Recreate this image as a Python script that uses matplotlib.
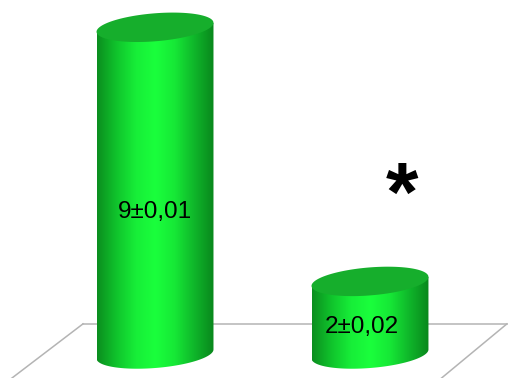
import numpy as np
import matplotlib.pyplot as plt
from matplotlib.patches import Polygon
from matplotlib.colors import LinearSegmentedColormap

# data
categories = ["A", "B"]
values = [9, 2]
labels = ["9±0,01", "2±0,02"]
marks = ["", "*"]

plt.rcParams["font.family"] = ["Liberation Sans", "DejaVu Sans"]

fig = plt.figure(figsize=(5.08, 3.78), dpi=100)
ax = fig.add_axes([0, 0, 1, 1])
ax.set_xlim(-0.721, 1.642)
ax.set_ylim(-0.661, 9.752)
ax.axis("off")

# cylinder shape (data units)
a = 0.272      # half width
b = 0.386      # half height of ellipse
tilt = 0.124   # ellipse tilt, right side higher

green = LinearSegmentedColormap.from_list(
    "cyl", ["#0b8e1f", "#10c42c", "#17ee38", "#1aff3c", "#16e836", "#0fb62a", "#09871c"])

# floor (perspective lines)
floor_y = 0.83
ax.plot([-0.335, 1.637], [floor_y, floor_y], color="#b4b4b4", lw=1.1, zorder=1)
ax.plot([-0.335, -0.80], [floor_y, -1.27], color="#b4b4b4", lw=1.1, zorder=1)
ax.plot([1.637, 1.209], [floor_y, -1.27], color="#b4b4b4", lw=1.1, zorder=1)


def ellipse(xc, yc, t):
    return xc + a * np.cos(t), yc + b * np.sin(t) + tilt * np.cos(t)


label_dx = [0.0, -0.04]
for i, (cat, v) in enumerate(zip(categories, values)):
    xc = i
    # body outline: left side, front of bottom ellipse, right side
    t = np.linspace(np.pi, 2 * np.pi, 80)
    bx, by = ellipse(xc, 0, t)
    xs = np.concatenate([[xc - a], bx, [xc + a]])
    ys = np.concatenate([[v - tilt], by, [v + tilt]])
    body = Polygon(np.column_stack([xs, ys]), closed=True, fc="none", ec="none", zorder=2)
    ax.add_patch(body)
    grad = np.linspace(0, 1, 256).reshape(1, -1)
    im = ax.imshow(grad, cmap=green, aspect="auto", extent=[xc - a, xc + a, -b - tilt, v + tilt],
                   zorder=2, interpolation="bilinear")
    im.set_clip_path(body)

    # top ellipse
    t2 = np.linspace(0, 2 * np.pi, 120)
    tx, ty = ellipse(xc, v, t2)
    ax.add_patch(Polygon(np.column_stack([tx, ty]), closed=True, fc="#16ae2c",
                         ec="none", zorder=3))

    ax.text(xc + label_dx[i], v * 0.45 - 0.15, labels[i], ha="center", va="center",
            fontsize=17.5, color="black", zorder=4)

    if marks[i]:
        ax.text(xc + 0.15, v + 2.27, marks[i], ha="center", va="center", fontsize=60,
                fontweight="bold", color="black", zorder=4)

fig.savefig("out.png", dpi=100)
